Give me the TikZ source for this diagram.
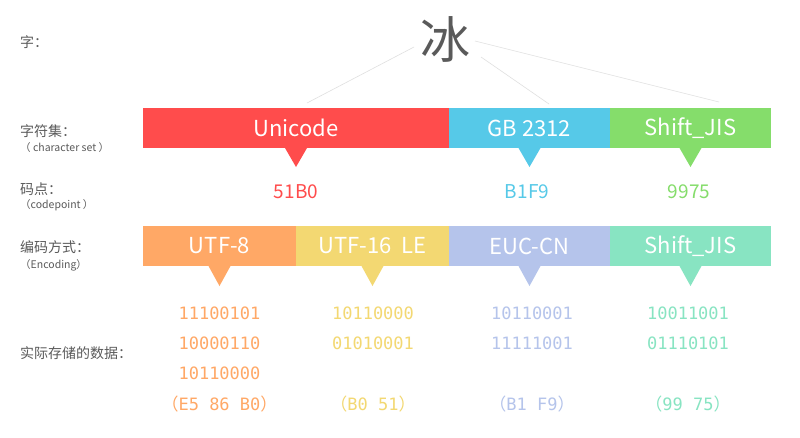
\documentclass[tikz,border=0pt]{standalone}
\usepackage{fontspec}
\setmainfont{Noto Sans CJK SC}
\newfontfamily\cjk{Noto Sans CJK SC}
\newfontfamily\monof{DejaVu Sans Mono}
\definecolor{cRed}{HTML}{FF4C4C}
\definecolor{cBlue}{HTML}{56C9E8}
\definecolor{cGreen}{HTML}{85DD6B}
\definecolor{cOrange}{HTML}{FFA866}
\definecolor{cYellow}{HTML}{F3D872}
\definecolor{cLav}{HTML}{B5C4EB}
\definecolor{cMint}{HTML}{88E4C2}
\definecolor{cGray}{HTML}{5A5A5A}
\definecolor{cLine}{HTML}{E0E0E0}
\tikzset{
  bar/.style={inner sep=0pt, outer sep=0pt, minimum height=40pt, text=white, font=\fontsize{22}{22}\selectfont},
  lbl/.style={anchor=west, inner sep=0pt, text=cGray, font=\fontsize{14}{14}\selectfont},
  sublbl/.style={anchor=west, inner sep=0pt, text=cGray, font=\fontsize{10.5}{10.5}\selectfont},
  cp/.style={inner sep=0pt, font=\fontsize{19}{19}\selectfont},
  dat/.style={inner sep=0pt, font=\monof\fontsize{17}{17}\selectfont},
  link/.style={draw=cLine, line width=0.6pt},
}
\begin{document}
\begin{tikzpicture}[x=1pt,y=-1pt]
\fill[white] (0,0) rectangle (800,437);
\useasboundingbox (0,0) rectangle (800,437);

% left labels
\node[lbl] (lzi) at (20,42) {字：};
\node[lbl] (lcs) at (20,131) {字符集：};
\node[sublbl] (lcs2) at (20,148) {（ character set ）};
\node[lbl] (lcp) at (20,189) {码点：};
\node[sublbl] (lcp2) at (20,205) {（codepoint ）};
\node[lbl] (lenc) at (20,247) {编码方式：};
\node[sublbl] (lenc2) at (20,265) {（Encoding）};
\node[lbl] (ldata) at (20,353) {实际存储的数据：};

% character
\node[inner sep=0pt, text=cGray, font=\fontsize{50}{50}\selectfont] (bing) at (445,39) {冰};
\coordinate (s1) at (414,47);
\coordinate (s2) at (481,57);
\coordinate (s3) at (475,41);
\coordinate (e1) at (307,103);
\coordinate (e2) at (549,104);
\coordinate (e3) at (719,102);
\draw[link] (s1) -- (e1);
\draw[link] (s2) -- (e2);
\draw[link] (s3) -- (e3);

% charset bars
\node[bar, fill=cRed, minimum width=306pt] (uni) at (296,128) {Unicode};
\node[bar, fill=cBlue, minimum width=161pt] (gb) at (529.5,128) {GB 2312};
\node[bar, fill=cGreen, minimum width=161pt] (sj) at (690.5,128) {Shift\_JIS};
\fill[cRed] (uni.south) ++(-11,0) -- ++(22,0) -- ++(-11,19) -- cycle;
\fill[cBlue] (gb.south) ++(-11,0) -- ++(22,0) -- ++(-11,19) -- cycle;
\fill[cGreen] (sj.south) ++(-11,0) -- ++(22,0) -- ++(-11,19) -- cycle;

% codepoints
\node[cp, text=cRed] (cpu) at (296,192) {51B0};
\node[cp, text=cBlue] (cpg) at (527,192) {B1F9};
\node[cp, text=cGreen] (cps) at (689,192) {9975};

% encoding bars
\node[bar, fill=cOrange, minimum width=153pt] (u8) at (219.5,246) {UTF-8};
\node[bar, fill=cYellow, minimum width=153pt] (u16) at (372.5,246) {UTF-16~~LE};
\node[bar, fill=cLav, minimum width=161pt] (euc) at (529.5,246) {EUC-CN};
\node[bar, fill=cMint, minimum width=161pt] (sje) at (690.5,246) {Shift\_JIS};
\fill[cOrange] (u8.south) ++(-11,0) -- ++(22,0) -- ++(-11,20) -- cycle;
\fill[cYellow] (u16.south) ++(-11,0) -- ++(22,0) -- ++(-11,20) -- cycle;
\fill[cLav] (euc.south) ++(-11,0) -- ++(22,0) -- ++(-11,20) -- cycle;
\fill[cMint] (sje.south) ++(-11,0) -- ++(22,0) -- ++(-11,20) -- cycle;

% data
\node[dat, text=cOrange] (d11) at (219.5,313) {11100101};
\node[dat, text=cOrange] (d12) at (219.5,343) {10000110};
\node[dat, text=cOrange] (d13) at (219.5,373) {10110000};
\node[dat, text=cOrange] (d14) at (219.5,404) {{\cjk （}E5 86 B0{\cjk ）}};
\node[dat, text=cYellow] (d21) at (373,313) {10110000};
\node[dat, text=cYellow] (d22) at (373,343) {01010001};
\node[dat, text=cYellow] (d24) at (373,404) {{\cjk （}B0 51{\cjk ）}};
\node[dat, text=cLav] (d31) at (532,313) {10110001};
\node[dat, text=cLav] (d32) at (532,343) {11111001};
\node[dat, text=cLav] (d34) at (532,404) {{\cjk （}B1 F9{\cjk ）}};
\node[dat, text=cMint] (d41) at (688,313) {10011001};
\node[dat, text=cMint] (d42) at (688,343) {01110101};
\node[dat, text=cMint] (d44) at (688,404) {{\cjk （}99 75{\cjk ）}};
\end{tikzpicture}
\end{document}
